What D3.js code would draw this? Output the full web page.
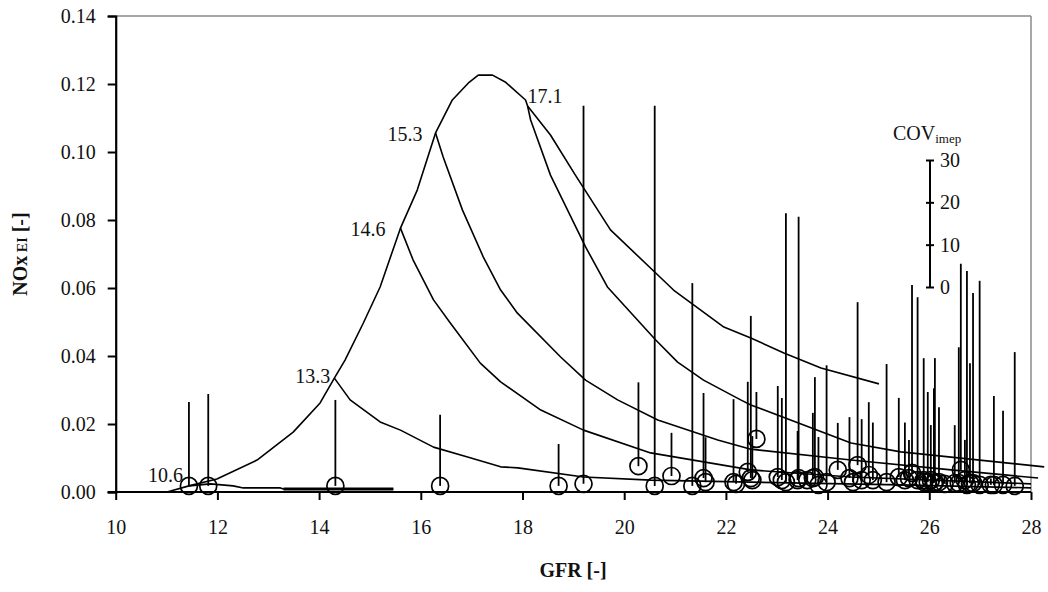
<!DOCTYPE html>
<html>
<head>
<meta charset="utf-8">
<script src="https://cdn.jsdelivr.net/npm/d3@7/dist/d3.min.js"></script>
<style>
  html, body { margin: 0; padding: 0; background: #fff; }
  svg { display: block; }
  text { font-family: "Liberation Serif", "Times New Roman", serif; fill: #111; }
</style>
</head>
<body>
<svg id="chart" width="1048" height="592"></svg>
<script>
// ---------- DATA ----------
const gfrTicks = [10, 12, 14, 16, 18, 20, 22, 24, 26, 28];
const noxTicks = [0, 0.02, 0.04, 0.06, 0.08, 0.10, 0.12, 0.14];
const covTicks = [0, 10, 20, 30];

// envelope curve [GFR, NOx]
const envelope = [
  [11.01, 0.0], [11.44, 0.0018], [11.99, 0.0038], [12.78, 0.0094], [13.49, 0.0176],
  [14.02, 0.0262], [14.30, 0.0335], [14.51, 0.0388], [14.87, 0.0497], [15.20, 0.0603],
  [15.60, 0.0776], [15.93, 0.0888], [16.29, 0.1056], [16.62, 0.1153], [16.95, 0.1205],
  [17.13, 0.1226], [17.41, 0.1226], [17.66, 0.1206], [18.06, 0.1153], [18.10, 0.1135]
];
// iso-lines starting at the labelled points
const branch106 = [
  [11.44, 0.0018], [11.86, 0.0024], [12.31, 0.0018], [12.51, 0.0012], [13.24, 0.0012],
  [13.30, 0.0009], [15.46, 0.0009]
];
const branch133 = [
  [14.30, 0.0335], [14.61, 0.0271], [15.20, 0.0206], [15.60, 0.0182], [16.25, 0.0132],
  [16.92, 0.0103], [17.57, 0.0074], [17.91, 0.0071], [19.20, 0.0044], [20.52, 0.0035],
  [22.49, 0.0029], [25.44, 0.0021], [28.0, 0.0012]
];
const branch146 = [
  [15.60, 0.0776], [15.85, 0.0682], [16.25, 0.0565], [16.58, 0.0497], [17.17, 0.0379],
  [17.57, 0.0324], [18.36, 0.0241], [19.20, 0.0182], [20.52, 0.0115], [22.49, 0.0065],
  [24.46, 0.0044], [28.0, 0.0024]
];
const branch153 = [
  [16.29, 0.1056], [16.44, 0.0985], [16.82, 0.0829], [17.23, 0.0691], [17.57, 0.0594],
  [17.90, 0.0526], [18.75, 0.0397], [19.24, 0.0329], [19.87, 0.0271], [20.66, 0.0212],
  [21.84, 0.0153], [22.49, 0.0126], [24.46, 0.0094], [26.43, 0.0065], [28.14, 0.0041]
];
const branch171a = [
  [18.10, 0.1135], [18.55, 0.1050], [19.04, 0.0932], [19.73, 0.0771], [20.62, 0.0644],
  [20.97, 0.0594], [21.96, 0.0485], [22.49, 0.0453], [23.14, 0.0409], [23.87, 0.0365],
  [25.01, 0.0318]
];
const branch171b = [
  [18.10, 0.1135], [18.16, 0.1094], [18.55, 0.0932], [19.24, 0.0721], [19.67, 0.0603],
  [20.62, 0.0447], [21.05, 0.0382], [21.56, 0.0329], [22.29, 0.0271], [22.49, 0.0256],
  [23.93, 0.0174], [24.46, 0.0144], [25.44, 0.0118], [28.26, 0.0074]
];
const curveLabels = ["10.6", "13.3", "14.6", "15.3", "17.1"];
const curveLabelAt = [[11.44, 0.0018], [14.30, 0.0335], [15.60, 0.0776], [16.29, 0.1056], [18.10, 0.1135]];

// measured points: GFR, NOx EI, COV imep
const ptGFR = [11.44, 11.82, 14.32, 16.38, 18.71, 19.20, 20.28, 20.60, 20.93, 21.34,
  21.56, 21.60, 22.15, 22.43, 22.49, 22.60, 22.52, 23.02, 23.10, 23.18,
  23.41, 23.43, 23.71, 23.75, 23.82, 23.98, 24.20, 24.43, 24.59, 24.67,
  24.81, 24.89, 25.16, 25.40, 25.52, 25.60, 25.66, 25.77, 25.89, 25.97,
  26.03, 26.09, 26.11, 26.19, 26.50, 26.58, 26.62, 26.70, 26.74, 26.80,
  26.86, 26.99, 27.27, 27.45, 27.68, 27.21, 22.20, 24.50, 25.90, 26.30, 23.60];
const ptNOx = [0.0018, 0.0018, 0.0018, 0.0018, 0.0018, 0.0024, 0.0076, 0.0018, 0.0047, 0.0018,
  0.0041, 0.0029, 0.0029, 0.0059, 0.0041, 0.0156, 0.0035, 0.0044, 0.0035, 0.0029,
  0.0035, 0.0041, 0.0041, 0.0044, 0.0021, 0.0029, 0.0065, 0.0041, 0.0079, 0.0035,
  0.0050, 0.0035, 0.0029, 0.0044, 0.0035, 0.0041, 0.0056, 0.0035, 0.0035, 0.0029,
  0.0035, 0.0026, 0.0029, 0.0029, 0.0026, 0.0026, 0.0065, 0.0035, 0.0021, 0.0026,
  0.0026, 0.0021, 0.0021, 0.0021, 0.0018, 0.0021, 0.0024, 0.0029, 0.0029, 0.0024, 0.0035];
const ptCOV = [19.8, 21.7, 20.3, 16.8, 9.9, 89.3, 19.8, 89.8, 10.2, 47.9,
  20.1, 10.6, 19.6, 21.3, 38.3, 11.1, 10.4, 21.5, 19.4, 63.5,
  11.6, 61.7, 15.4, 23.6, 11.3, 27.6, 11.1, 14.4, 38.5, 14.4,
  17.2, 13.6, 27.9, 18.7, 13.6, 9.0, 44.4, 43.2, 28.8, 21.3,
  13.0, 22.4, 29.3, 17.7, 13.7, 32.1, 48.7, 9.5, 50.5, 28.3,
  44.9, 48.2, 21.0, 17.5, 31.6, 1.5, 2.0, 2.0, 2.0, 2.0, 2.0];

// ---------- CHART ----------
const svg = d3.select("#chart");
const x = d3.scaleLinear().domain([10, 28]).range([115.7, 1031]);
const y = d3.scaleLinear().domain([0, 0.14]).range([492, 16]);
// COV scale: legend bar placed in the plot
const covAxisScale = d3.scaleLinear().domain([0, 30]).range([287, 160]);
const covLen = v => covAxisScale(0) - covAxisScale(v);

const line = d3.line().x(d => x(d[0])).y(d => y(d[1]));

// frame (gray top/right)
svg.append("line").attr("x1", x(10)).attr("x2", x(28)).attr("y1", y(0.14)).attr("y2", y(0.14))
  .attr("stroke", "#8a8a8a").attr("stroke-width", 1.5);
svg.append("line").attr("x1", x(28)).attr("x2", x(28)).attr("y1", y(0.14)).attr("y2", y(0))
  .attr("stroke", "#8a8a8a").attr("stroke-width", 1.5);

// curves
const g = svg.append("g").attr("fill", "none").attr("stroke", "#000").attr("stroke-width", 1.6)
  .attr("stroke-linejoin", "round");
[envelope, branch106, branch133, branch146, branch153, branch171a, branch171b].forEach(c => {
  g.append("path").attr("d", line(c));
});
g.append("path").attr("d", line(branch106.slice(5))).attr("stroke-width", 3);

// COV stems and circles
const pts = ptGFR.map((v, i) => ({ gfr: v, nox: ptNOx[i], cov: ptCOV[i] }));
svg.append("g").selectAll("line").data(pts).join("line")
  .attr("x1", d => x(d.gfr)).attr("x2", d => x(d.gfr))
  .attr("y1", d => y(d.nox)).attr("y2", d => y(d.nox) - covLen(d.cov))
  .attr("stroke", "#000").attr("stroke-width", 1.8);
svg.append("g").selectAll("circle").data(pts).join("circle")
  .attr("cx", d => x(d.gfr)).attr("cy", d => y(d.nox)).attr("r", 8.5)
  .attr("fill", "none").attr("stroke", "#000").attr("stroke-width", 1.7);

// axes
const xAxis = svg.append("g").attr("transform", `translate(0,${y(0)})`)
  .call(d3.axisBottom(x).tickValues(gfrTicks).tickSize(8).tickPadding(20).tickFormat(d3.format("d")));
const yAxis = svg.append("g").attr("transform", `translate(${x(10)},0)`)
  .call(d3.axisLeft(y).tickValues(noxTicks).tickSize(8).tickPadding(12).tickFormat(d3.format(".2f")));
[xAxis, yAxis].forEach(a => {
  a.select(".domain").attr("stroke", "#000").attr("stroke-width", 2.2);
  a.selectAll(".tick line").attr("stroke", "#000").attr("stroke-width", 2);
  a.selectAll(".tick text").attr("font-family", "Liberation Serif").attr("font-size", 20).attr("fill", "#222");
});
xAxis.select(".domain").attr("d", `M${x(10) - 8},0H${x(28)}`);

// COV legend axis
const covAxis = svg.append("g").attr("transform", "translate(930,0)")
  .call(d3.axisRight(covAxisScale).tickValues(covTicks).tickSize(4).tickPadding(6));
covAxis.select(".domain").attr("d", `M0,${covAxisScale(0)}V${covAxisScale(30)}`)
  .attr("stroke", "#000").attr("stroke-width", 2);
covAxis.selectAll(".tick line").attr("x1", -4).attr("stroke", "#000").attr("stroke-width", 2);
covAxis.selectAll(".tick text").attr("font-family", "Liberation Serif").attr("font-size", 20).attr("fill", "#222");
const covTitle = svg.append("text").attr("x", 893).attr("y", 140).attr("font-size", 20);
covTitle.append("tspan").text("COV");
covTitle.append("tspan").attr("dy", 3).attr("font-size", 13).text("imep");

// curve labels
const labelOffsets = [[-6, -4, "end"], [-4, 5, "end"], [-15, 8, "end"], [-13, 8, "end"], [0, -3, "start"]];
svg.append("g").selectAll("text").data(curveLabels).join("text")
  .attr("x", (d, i) => x(curveLabelAt[i][0]) + labelOffsets[i][0])
  .attr("y", (d, i) => y(curveLabelAt[i][1]) + labelOffsets[i][1])
  .attr("text-anchor", (d, i) => labelOffsets[i][2])
  .attr("font-size", 20).attr("fill", "#222").text(d => d);

// axis titles
svg.append("text").attr("x", 573).attr("y", 577).attr("text-anchor", "middle")
  .attr("font-size", 20).attr("font-weight", "bold").text("GFR [-]");
const yt = svg.append("text").attr("transform", "translate(27,254) rotate(-90)")
  .attr("text-anchor", "middle").attr("font-size", 20).attr("font-weight", "bold");
yt.append("tspan").text("NOx");
yt.append("tspan").attr("font-size", 14).text(" EI");
yt.append("tspan").text("  [-]");
</script>
</body>
</html>
